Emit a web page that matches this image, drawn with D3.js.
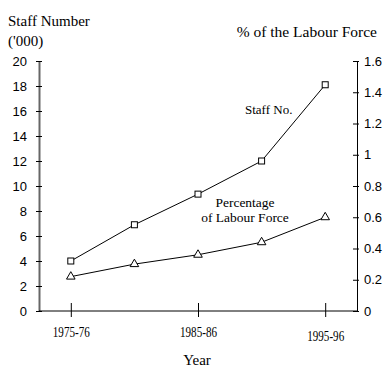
<!DOCTYPE html>
<html><head><meta charset="utf-8">
<script src="https://cdn.jsdelivr.net/npm/d3@7"></script>
<style>
body{margin:0;background:#fff;}
svg{display:block;}
.serif{font-family:"Liberation Serif","Times New Roman",serif;fill:#000;}
.narrow{font-family:"Liberation Sans Narrow","Arial Narrow","Liberation Sans",sans-serif;fill:#000;}
</style>
</head><body>
<svg id="c" width="390" height="380"></svg>
<script>
const years = ["1975-76","1980-81","1985-86","1990-91","1995-96"];
const yearTickLabels = ["1975-76","1985-86","1995-96"];
const staffNumbers = [4.0, 6.9, 9.35, 12.0, 18.1];
const labourPct = [0.22, 0.30, 0.36, 0.44, 0.60];
const leftTicks = [0,2,4,6,8,10,12,14,16,18,20];
const rightTicks = [0,0.2,0.4,0.6,0.8,1,1.2,1.4,1.6];

const svg = d3.select("#c");
const L = 39, R = 357, T = 61, B = 311;

const x = d3.scalePoint().domain(years).range([L, R]).padding(0.5);
const yL = d3.scaleLinear().domain([0,20]).range([B, T]);
const yR = d3.scaleLinear().domain([0,1.6]).range([B, T]);

// Left axis
const gl = svg.append("g").attr("transform",`translate(${L},0)`)
  .call(d3.axisLeft(yL).tickValues(leftTicks).tickSizeOuter(0).tickFormat(d3.format("d")));
gl.select(".domain").attr("stroke","#666").attr("stroke-width",2);
gl.selectAll(".tick line").attr("x1",-3).attr("x2",3).attr("stroke","#000");
gl.selectAll(".tick text").attr("x",-12).attr("class","narrow").style("font-size","13px").attr("font-family",null);

// Right axis
const gr = svg.append("g").attr("transform",`translate(${R},0)`)
  .call(d3.axisRight(yR).tickValues(rightTicks).tickSizeOuter(0).tickFormat(d => d3.format("")(+d.toFixed(1))));
gr.select(".domain").attr("stroke","#000");
gr.selectAll(".tick line").attr("x1",-4).attr("x2",2).attr("stroke","#000");
gr.selectAll(".tick text").attr("x",7).attr("class","narrow").style("font-size","13px").attr("font-family",null);

// Bottom axis
const gb = svg.append("g").attr("transform",`translate(0,${B})`)
  .call(d3.axisBottom(x).tickValues(yearTickLabels).tickSizeOuter(0));
gb.select(".domain").attr("d",`M${L},0H${R}`).attr("stroke","#000");
gb.selectAll(".tick line").attr("y1",-8).attr("y2",6).attr("stroke","#000");
gb.selectAll(".tick text").attr("class","serif").attr("font-family",null)
  .style("font-size","14px").attr("dy",null).attr("y",(d,i)=> i===2 ? 30 : 26)
  .attr("textLength",37).attr("lengthAdjust","spacingAndGlyphs");

// Lines
const lineL = d3.line().x((d,i)=>x(years[i])).y(d=>yL(d));
const lineR = d3.line().x((d,i)=>x(years[i])).y(d=>yR(d));
svg.append("path").datum(staffNumbers).attr("d",lineL).attr("fill","none").attr("stroke","#000").attr("stroke-width",1);
svg.append("path").datum(labourPct).attr("d",lineR).attr("fill","none").attr("stroke","#000").attr("stroke-width",1);

// Markers
svg.selectAll("rect.m").data(staffNumbers).join("rect").attr("class","m")
  .attr("x",(d,i)=>x(years[i])-3).attr("y",d=>yL(d)-3).attr("width",6).attr("height",6)
  .attr("fill","#fff").attr("stroke","#000").attr("stroke-width",1);
const tri = d3.symbol().type(d3.symbolTriangle).size(32);
svg.selectAll("path.t").data(labourPct).join("path").attr("class","t")
  .attr("d",tri).attr("transform",(d,i)=>`translate(${x(years[i])},${yR(d)})`)
  .attr("fill","#fff").attr("stroke","#000").attr("stroke-width",1);

// Titles
svg.append("text").attr("class","serif").attr("x",8).attr("y",26).style("font-size","15px").text("Staff Number");
svg.append("text").attr("class","serif").attr("x",8).attr("y",46).style("font-size","15px").text("('000)");
svg.append("text").attr("class","serif").attr("x",377).attr("y",37).attr("text-anchor","end").style("font-size","15.5px").text("% of the Labour Force");
svg.append("text").attr("class","serif").attr("x",197).attr("y",365).attr("text-anchor","middle").style("font-size","15px").text("Year");

// Series labels
svg.append("text").attr("class","serif").attr("x",245).attr("y",114).style("font-size","13px").text("Staff No.");
svg.append("text").attr("class","serif").attr("x",245).attr("y",207).attr("text-anchor","middle").style("font-size","13.5px").text("Percentage");
svg.append("text").attr("class","serif").attr("x",245).attr("y",222).attr("text-anchor","middle").style("font-size","13.5px").text("of Labour Force");
</script>
</body></html>
